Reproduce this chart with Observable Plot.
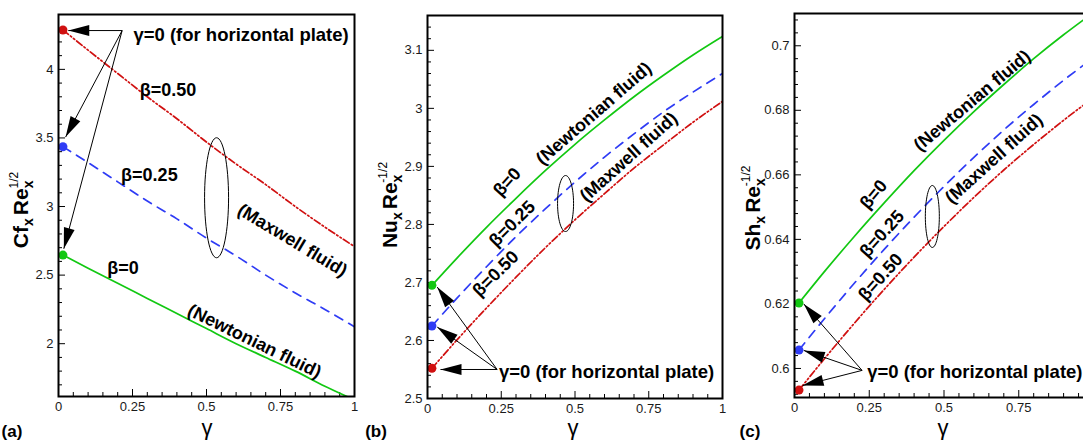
<!DOCTYPE html>
<html><head><meta charset="utf-8">
<script src="https://cdn.jsdelivr.net/npm/d3@7"></script>
<script src="https://cdn.jsdelivr.net/npm/@observablehq/plot@0.6"></script>
<style>
html,body{margin:0;padding:0;background:#fff;overflow:hidden;}
#wrap{position:relative;width:1083px;height:446px;overflow:hidden;background:#fff;}
#wrap svg{position:absolute;top:0;}
</style></head><body><div id="wrap"></div>
<script>
// ---------- data ----------
const gammaGrid = [0.015, 0.1, 0.2, 0.3, 0.4, 0.5, 0.6, 0.7, 0.8, 0.9, 1.0];
const betaNames = ["0", "0.25", "0.50"];
const dotGamma = 0.015;
// (a) skin friction Cf Re^1/2
const cfBeta0  = [2.646, 2.55, 2.44, 2.33, 2.22, 2.11, 2.00, 1.90, 1.80, 1.69, 1.59];
const cfBeta25 = [3.436, 3.32, 3.18, 3.04, 2.91, 2.77, 2.64, 2.50, 2.37, 2.25, 2.123];
const cfBeta50 = [4.287, 4.14, 3.97, 3.80, 3.64, 3.47, 3.31, 3.16, 3.00, 2.85, 2.708];
// (b) Nusselt Nu Re^-1/2
const nuBeta0  = [2.695, 2.742, 2.795, 2.845, 2.893, 2.938, 2.980, 3.020, 3.057, 3.092, 3.124];
const nuBeta25 = [2.625, 2.673, 2.727, 2.779, 2.827, 2.873, 2.916, 2.956, 2.994, 3.028, 3.060];
const nuBeta50 = [2.552, 2.601, 2.656, 2.709, 2.760, 2.808, 2.853, 2.897, 2.937, 2.976, 3.012];
// (c) Sherwood Sh Re^-1/2
const shBeta0  = [0.6203, 0.6300, 0.6409, 0.6513, 0.6613, 0.6707, 0.6796, 0.6880, 0.6960, 0.7034, 0.7103];
const shBeta25 = [0.6057, 0.6154, 0.6264, 0.6369, 0.6469, 0.6564, 0.6654, 0.6739, 0.6818, 0.6893, 0.6963];
const shBeta50 = [0.5933, 0.6030, 0.6140, 0.6245, 0.6345, 0.6440, 0.6530, 0.6615, 0.6694, 0.6769, 0.6839];
// tick labels
const xTicks = [0, 0.25, 0.5, 0.75, 1];
const xTicksC = [0, 0.25, 0.5, 0.75];
const cfTicks = [2, 2.5, 3, 3.5, 4];
const nuTicks = [2.5, 2.6, 2.7, 2.8, 2.9, 3, 3.1];
const shTicks = [0.6, 0.62, 0.64, 0.66, 0.68, 0.7];
const noteText = "γ=0 (for horizontal plate)";

// ---------- helpers ----------
const GREEN = "#12c812", BLUE = "#2f3cf5", RED = "#d01010";
const FONT = "'Liberation Sans', Arial, Helvetica, sans-serif";

function minorTicks(start, stop, step, majors) {
  const n = Math.round((stop - start) / step), out = [];
  for (let i = 0; i <= n; i++) {
    const v = +(start + i * step).toFixed(4);
    if (!majors.some(m => Math.abs(m - v) < 1e-9)) out.push(v);
  }
  return out;
}
const ellipseSymbol = (rx, ry) => ({
  draw(ctx) {
    const k = 0.5523;
    ctx.moveTo(rx, 0);
    ctx.bezierCurveTo(rx, ry * k, rx * k, ry, 0, ry);
    ctx.bezierCurveTo(-rx * k, ry, -rx, ry * k, -rx, 0);
    ctx.bezierCurveTo(-rx, -ry * k, -rx * k, -ry, 0, -ry);
    ctx.bezierCurveTo(rx * k, -ry, rx, -ry * k, rx, 0);
    ctx.closePath();
  }
});
function arrowHeads(index, scales, values, dimensions, context, next) {
  const g = next(index, scales, values, dimensions, context);
  const {x1, y1, x2, y2} = values;
  const L = 21, W = 5.5;
  for (const i of index) {
    const dx = x2[i] - x1[i], dy = y2[i] - y1[i], n = Math.hypot(dx, dy);
    const ux = dx / n, uy = dy / n;
    const bx = x2[i] - ux * L, by = y2[i] - uy * L;
    const poly = document.createElementNS("http://www.w3.org/2000/svg", "polygon");
    poly.setAttribute("points", `${x2[i]},${y2[i]} ${bx - uy * W},${by + ux * W} ${bx + uy * W},${by - ux * W}`);
    poly.setAttribute("fill", "black");
    poly.setAttribute("stroke", "none");
    g.appendChild(poly);
  }
  return g;
}
const fmt = d => String(d);

function makePanel(p) {
  const rows = (vals, beta) => gammaGrid.map((g, i) => ({gamma: g, value: vals[i], beta}));
  const d0 = rows(p.b0, betaNames[0]), d25 = rows(p.b25, betaNames[1]), d50 = rows(p.b50, betaNames[2]);
  const dots = [
    {gamma: dotGamma, value: p.b0[0], c: GREEN},
    {gamma: dotGamma, value: p.b25[0], c: BLUE},
    {gamma: dotGamma, value: p.b50[0], c: RED}
  ];
  const yMinor = minorTicks(p.minor[0], p.minor[1], p.minor[2], p.yTicks);
  const xMinor = minorTicks(0, 1, 0.05, xTicks);
  const line = {x: "gamma", y: "value", strokeWidth: 1.7, curve: "monotone-x", clip: true};
  const svg = Plot.plot({
    width: p.width, height: 446,
    marginLeft: p.m[0], marginRight: p.m[1], marginTop: p.m[2], marginBottom: p.m[3],
    x: {domain: [0, 1]},
    y: {domain: p.yDomain},
    color: {type: "identity"},
    style: {fontFamily: FONT, fontSize: "13px", color: "#1a1a1a", background: "transparent", overflow: "visible"},
    marks: [
      Plot.axisX(p.xTicks, {tickSize: 7, dy: -7, tickPadding: 5, tickFormat: fmt, label: null, stroke: "black"}),
      Plot.axisX(xMinor, {tickSize: 4, dy: -4, tickFormat: () => "", label: null, stroke: "black"}),
      Plot.axisY(p.yTicks, {tickSize: 7, dx: 7, tickPadding: 5, tickFormat: fmt, label: null, stroke: "black"}),
      Plot.axisY(yMinor, {tickSize: 4, dx: 4, tickFormat: () => "", label: null, stroke: "black"}),
      Plot.line(d50, {...line, stroke: RED, strokeDasharray: "7,2.5,1.5,2.5,1.5,2.5"}),
      Plot.line(d25, {...line, stroke: BLUE, strokeDasharray: "9,7"}),
      Plot.line(d0, {...line, stroke: GREEN}),
      Plot.dot(dots, {x: "gamma", y: "value", fill: "c", r: 4.5}),
      Plot.dot([p.ellipse], {x: "gamma", y: "value", symbol: ellipseSymbol(p.ellipse.rx, p.ellipse.ry), fill: "none", stroke: "black", strokeWidth: 1}),
      Plot.link(p.arrows, {x1: "g1", y1: "v1", x2: "g2", y2: "v2", stroke: "black", strokeWidth: 1, render: arrowHeads}),
      Plot.text(p.labels, {x: "gamma", y: "value", text: "text", rotate: "angle", fontWeight: "bold", fontSize: 18, fill: "black"}),
      Plot.text([p.note], {x: "gamma", y: "value", text: () => noteText, textAnchor: "start", fontWeight: "bold", fontSize: 18.5, fill: "black"}),
      Plot.frame({stroke: "black", strokeWidth: 2})
    ]
  });
  svg.style.left = p.left + "px";
  const s = d3.select(svg);
  // y-axis title with sub/superscripts
  const t = s.append("text")
    .attr("transform", `translate(${p.title.x},${p.title.y}) rotate(-90)`)
    .attr("text-anchor", "middle").attr("font-family", FONT)
    .attr("font-weight", "bold").attr("font-size", 21).attr("fill", "black");
  t.append("tspan").text(p.title.parts[0]);
  t.append("tspan").attr("font-size", 14).attr("dy", 5).text("x");
  t.append("tspan").attr("dy", -5).attr("dx", 3).text("Re");
  t.append("tspan").attr("font-size", 14).attr("dy", 5).text("x");
  t.append("tspan").attr("font-size", 12).attr("font-weight", "normal").attr("dx", -8).attr("dy", -15).text(p.title.parts[1]);
  // x title and panel tag
  s.append("text").attr("x", p.gammaX).attr("y", 435).attr("text-anchor", "middle")
    .attr("font-family", FONT).attr("font-size", 22).attr("fill", "black").text("γ");
  s.append("text").attr("x", p.tagX).attr("y", 437).attr("font-family", FONT)
    .attr("font-weight", "bold").attr("font-size", 17).attr("fill", "black").text(p.tag);
  document.getElementById("wrap").appendChild(svg);
}

// ---------- panels ----------
makePanel({
  left: 0, width: 360, m: [58, 6, 14, 50], yDomain: [1.615, 4.4], xTicks: xTicks,
  b0: cfBeta0, b25: cfBeta25, b50: cfBeta50, yTicks: cfTicks, minor: [1.7, 4.3, 0.1],
  ellipse: {gamma: 0.534, value: 3.064, rx: 12, ry: 60},
  arrows: [
    {g1: 0.215, v1: 4.283, g2: 0.033, v2: 4.283},
    {g1: 0.215, v1: 4.283, g2: 0.024, v2: 3.506},
    {g1: 0.215, v1: 4.283, g2: 0.018, v2: 2.692}
  ],
  labels: [
    {text: "β=0.50", gamma: 0.370, value: 3.846, angle: 0},
    {text: "β=0.25", gamma: 0.307, value: 3.227, angle: 0},
    {text: "β=0", gamma: 0.218, value: 2.549, angle: 0},
    {text: "(Maxwell fluid)", gamma: 0.790, value: 2.753, angle: 31},
    {text: "(Newtonian fluid)", gamma: 0.662, value: 2.017, angle: 26}
  ],
  note: {gamma: 0.253, value: 4.247},
  title: {x: 28, y: 210, parts: ["Cf", "1/2"]},
  gammaX: 207, tagX: 12, tag: "(a)"
});
makePanel({
  left: 360, width: 370, m: [67, 8, 15, 48], yDomain: [2.5, 3.16], xTicks: xTicks,
  b0: nuBeta0, b25: nuBeta25, b50: nuBeta50, yTicks: nuTicks, minor: [2.52, 3.14, 0.02],
  ellipse: {gamma: 0.468, value: 2.836, rx: 8, ry: 28},
  arrows: [
    {g1: 0.236, v1: 2.550, g2: 0.033, v2: 2.692},
    {g1: 0.236, v1: 2.550, g2: 0.033, v2: 2.623},
    {g1: 0.236, v1: 2.550, g2: 0.044, v2: 2.550}
  ],
  labels: [
    {text: "β=0", gamma: 0.270, value: 2.873, angle: -48},
    {text: "(Newtonian fluid)", gamma: 0.564, value: 2.991, angle: -41},
    {text: "β=0.25", gamma: 0.287, value: 2.801, angle: -45},
    {text: "β=0.50", gamma: 0.231, value: 2.715, angle: -45},
    {text: "(Maxwell fluid)", gamma: 0.682, value: 2.916, angle: -42}
  ],
  note: {gamma: 0.242, value: 2.545},
  title: {x: 37, y: 205, parts: ["Nu", "-1/2"]},
  gammaX: 213, tagX: 16, tag: "(b)"
});
makePanel({
  left: 730, width: 370, m: [64, 7, 13, 49], yDomain: [0.591, 0.71], xTicks: xTicksC,
  b0: shBeta0, b25: shBeta25, b50: shBeta50, yTicks: shTicks, minor: [0.592, 0.708, 0.004],
  ellipse: {gamma: 0.461, value: 0.6471, rx: 7, ry: 31},
  arrows: [
    {g1: 0.226, v1: 0.5994, g2: 0.031, v2: 0.6200},
    {g1: 0.226, v1: 0.5994, g2: 0.031, v2: 0.6056},
    {g1: 0.226, v1: 0.5994, g2: 0.027, v2: 0.5947}
  ],
  labels: [
    {text: "β=0", gamma: 0.265, value: 0.6539, angle: -50},
    {text: "(Newtonian fluid)", gamma: 0.594, value: 0.6830, angle: -40},
    {text: "β=0.25", gamma: 0.293, value: 0.6417, angle: -48},
    {text: "β=0.50", gamma: 0.288, value: 0.6283, angle: -48},
    {text: "(Maxwell fluid)", gamma: 0.667, value: 0.6650, angle: -42}
  ],
  note: {gamma: 0.243, value: 0.5988},
  title: {x: 30, y: 208, parts: ["Sh", "-1/2"]},
  gammaX: 213, tagX: 20, tag: "(c)"
});
</script></body></html>
